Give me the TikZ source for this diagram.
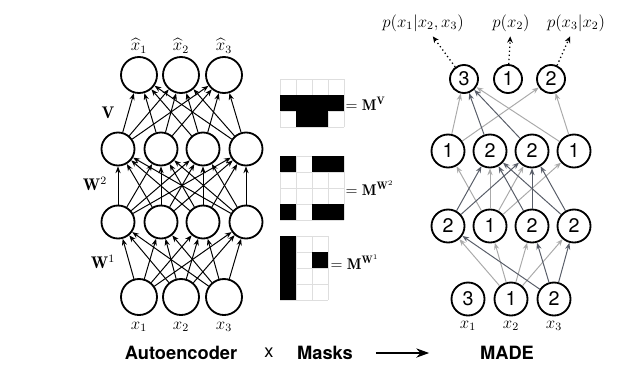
\documentclass[tikz,border=0pt]{standalone}
\usepackage{fontspec}
\setsansfont{TeX Gyre Heros}
\usepackage{amsmath}
\usetikzlibrary{arrows.meta}
\definecolor{lightedge}{RGB}{170,170,170}
\definecolor{darkedge}{RGB}{88,93,104}
\definecolor{gridline}{RGB}{222,222,222}

\begin{document}
\begin{tikzpicture}[x=0.25mm, y=-0.25mm, font=\fontsize{12}{14}\selectfont,
  unit/.style={circle, draw=black, line width=1.3pt, inner sep=0pt, minimum size=9mm},
  hid/.style={unit, minimum size=8.25mm},
  made/.style={unit, minimum size=8.25mm, font=\sffamily\fontsize{14}{14}\selectfont},
  madeout/.style={made, minimum size=7mm},
  arr/.style={-{Stealth[length=1.7mm,width=1.3mm]}, line width=0.7pt},
  lo/.style={arr, lightedge},
  hi/.style={arr, darkedge},
  dotarr/.style={-{Stealth[length=1.6mm,width=1.4mm]}, dotted, line width=0.9pt},
  cell/.style={draw=gridline, line width=0.4pt},
  masklbl/.style={anchor=west, inner sep=1pt, font=\fontsize{11}{13}\selectfont},
  caption/.style={font=\sffamily\bfseries\fontsize{13}{15}\selectfont}]
\useasboundingbox (0,0) rectangle (640,371);

% autoencoder
\foreach \i/\x in {1/139,2/181,3/224} {
  \node[unit] (in\i) at (\x,297) {};
  \node[unit] (out\i) at (\x,75) {};
  \node (x\i) at (\x,327) {$x_\i$};
  \node (xh\i) at (\x,46) {$\widehat{x}_\i$};
}
\foreach \i/\x in {1/118,2/161,3/203,4/246} {
  \node[hid] (ha\i) at (\x,222) {};
  \node[hid] (hb\i) at (\x,149) {};
}
\foreach \i in {1,2,3} \foreach \j in {1,...,4} \draw[arr] (in\i) -- (ha\j);
\foreach \i in {1,...,4} \foreach \j in {1,...,4} \draw[arr] (ha\i) -- (hb\j);
\foreach \i in {1,...,4} \foreach \j in {1,2,3} \draw[arr] (hb\i) -- (out\j);
\node (lv) at (108,113) {$\mathbf{V}$};
\node (lw2) at (95,184) {$\mathbf{W}^2$};
\node (lw1) at (103,262) {$\mathbf{W}^1$};

% masks
\foreach \c in {0,...,4} \draw[cell] (280+16*\c,79) -- ++(0,48);
\foreach \r in {0,...,3} \draw[cell] (280,79+16*\r) -- ++(64,0);
\foreach \c/\r in {0/1,1/1,2/1,3/1,1/2,2/2} \fill (280+16*\c,79+16*\r) rectangle ++(16,16);
\node[masklbl] (mv) at (344,104) {$=\mathbf{M}^{\mathbf{V}}$};

\foreach \c in {0,...,4} \draw[cell] (280+16*\c,156) -- ++(0,64);
\foreach \r in {0,...,4} \draw[cell] (280,156+16*\r) -- ++(64,0);
\foreach \c/\r in {0/0,2/0,3/0,0/3,2/3,3/3} \fill (280+16*\c,156+16*\r) rectangle ++(16,16);
\node[masklbl] (mw2) at (344,188) {$=\mathbf{M}^{\mathbf{W}^2}$};

\foreach \c in {0,...,3} \draw[cell] (280+16*\c,236) -- ++(0,64);
\foreach \r in {0,...,4} \draw[cell] (280,236+16*\r) -- ++(48,0);
\foreach \c/\r in {0/0,0/1,0/2,0/3,2/1} \fill (280+16*\c,236+16*\r) rectangle ++(16,16);
\node[masklbl] (mw1) at (329,262) {$=\mathbf{M}^{\mathbf{W}^1}$};

% MADE
\foreach \i/\x/\d in {1/468/3,2/511/1,3/554/2} {
  \node[made] (mi\i) at (\x,299) {\d};
  \node (mx\i) at (\x,326) {$x_\i$};
}
\foreach \i/\x/\d in {1/448/2,2/490/1,3/532/2,4/574/2} \node[made] (ma\i) at (\x,226) {\d};
\foreach \i/\x/\d in {1/448/1,2/490/2,3/532/2,4/574/1} \node[made] (mb\i) at (\x,151) {\d};
\foreach \i/\x/\d in {1/464/3,2/508/1,3/551/2} \node[madeout] (mo\i) at (\x,79) {\d};

\foreach \j in {1,...,4} \draw[lo] (mi2) -- (ma\j);
\foreach \j in {1,3,4} \draw[hi] (mi3) -- (ma\j);
\foreach \j in {1,...,4} \draw[lo] (ma2) -- (mb\j);
\foreach \i in {1,3,4} \foreach \j in {2,3} \draw[hi] (ma\i) -- (mb\j);
\foreach \i in {1,4} \foreach \j in {1,3} \draw[lo] (mb\i) -- (mo\j);
\foreach \i in {2,3} \draw[hi] (mb\i) -- (mo1);

\node (p1) at (423,23) {$p(x_1|x_2,x_3)$};
\node (p2) at (511,23) {$p(x_2)$};
\node (p3) at (576,23) {$p(x_3|x_2)$};
\draw[dotarr] (mo1) -- (p1);
\draw[dotarr] (mo2) -- (p2);
\draw[dotarr] (mo3) -- (p3);

% bottom line
\node[caption] (ae) at (181,353) {Autoencoder};
\node[font=\sffamily\fontsize{13}{15}\selectfont] (times) at (269,353) {x};
\node[caption] (masks) at (325,353) {Masks};
\node[caption] (madelbl) at (507,353) {MADE};
\draw[-{Stealth[length=3.2mm,width=2.3mm]}, line width=1.6pt, shorten <=4.5mm, shorten >=11.5mm] (masks) -- (madelbl);
\end{tikzpicture}
\end{document}
